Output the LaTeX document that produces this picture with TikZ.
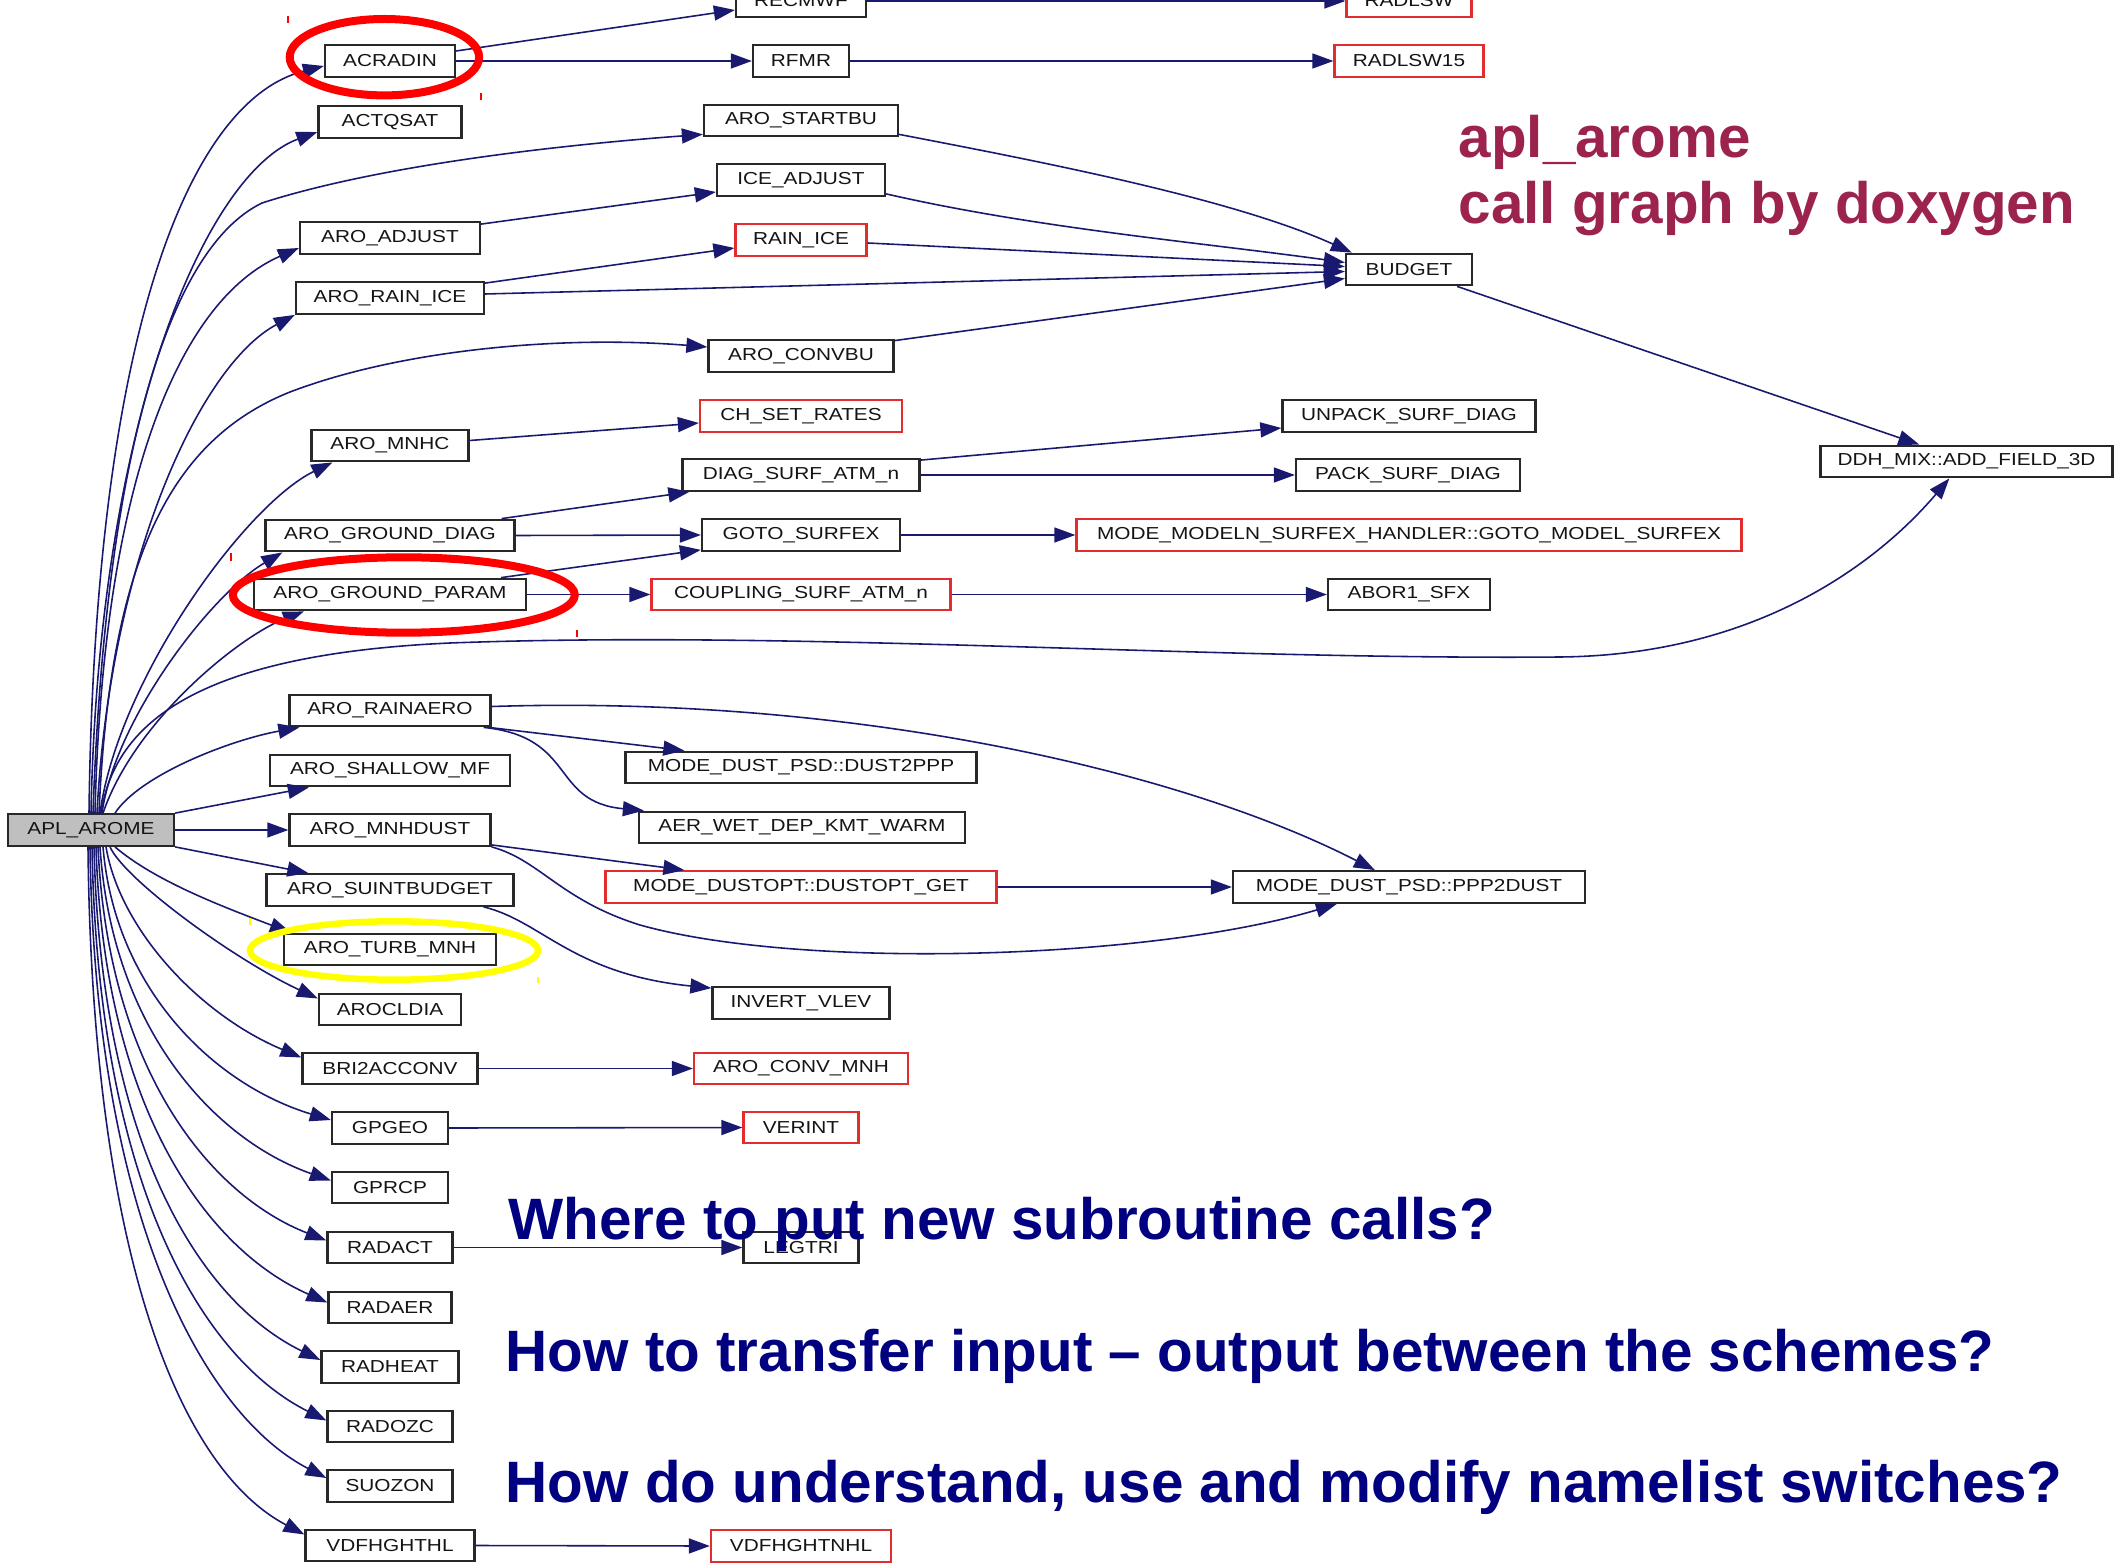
\documentclass[tikz,border=0pt]{standalone}
\usepackage{fontspec}
\setmainfont{Liberation Sans}
\newfontfamily\nodefont[FakeStretch=1.2]{Liberation Sans}
\usetikzlibrary{arrows.meta,calc}
\definecolor{edgeblue}{RGB}{25,25,112}
\definecolor{boxgray}{RGB}{40,40,40}
\definecolor{boxred}{RGB}{225,45,45}
\definecolor{nodetext}{RGB}{20,20,20}
\definecolor{aplgray}{RGB}{191,191,191}
\definecolor{qblue}{RGB}{0,0,128}
\definecolor{titlered}{RGB}{155,35,78}
\definecolor{hiyellow}{RGB}{255,255,0}
\begin{document}
\begin{tikzpicture}[x=0.01cm, y=-0.01cm,
  box/.style={draw=boxgray, line width=0.65pt, fill=white, minimum height=0.315cm, inner xsep=0.02cm, inner ysep=0pt, font=\nodefont\fontsize{4.93}{6}\selectfont, text=nodetext},
  rbox/.style={box, draw=boxred},
  bw/.style={minimum width=#1*0.01cm},
  edge/.style={draw=edgeblue, line width=0.45pt, -{Triangle[length=0.21cm,width=0.15cm]}},
  qtext/.style={anchor=base west, inner sep=0pt, font=\fontsize{16.6}{20}\selectfont\bfseries, text=qblue},
  ttext/.style={anchor=base west, inner sep=0pt, font=\fontsize{16.6}{20}\selectfont\bfseries, text=titlered},
  hiring/.style={line width=0.08cm},
]
\useasboundingbox (0,0) rectangle (2118,1564);
\clip (0,0) rectangle (2118,1564);

% ---------- nodes ----------
\node[box, fill=aplgray, bw=166] (apl) at (91,830) {APL\_AROME};

% column 1
\node[box,bw=130] (acradin)     at (390,61)     {ACRADIN};
\node[box,bw=143] (actqsat)     at (390,122)    {ACTQSAT};
\node[box,bw=180] (aroadjust)   at (390,238)    {ARO\_ADJUST};
\node[box,bw=188] (arorainice)  at (390,298)    {ARO\_RAIN\_ICE};
\node[box,bw=157] (mnhc)        at (390,445.5)  {ARO\_MNHC};
\node[box,bw=249] (grounddiag)  at (390,535.5)  {ARO\_GROUND\_DIAG};
\node[box,bw=272] (groundparam) at (390,594.5)  {ARO\_GROUND\_PARAM};
\node[box,bw=201] (rainaero)    at (390,710.5)  {ARO\_RAINAERO};
\node[box,bw=240] (shallow)     at (390,770.5)  {ARO\_SHALLOW\_MF};
\node[box,bw=201] (mnhdust)     at (390,830)    {ARO\_MNHDUST};
\node[box,bw=247] (suint)       at (390,890)    {ARO\_SUINTBUDGET};
\node[box,bw=212] (turb)        at (390,949.5)  {ARO\_TURB\_MNH};
\node[box,bw=142] (arocldia)    at (390,1009.5) {AROCLDIA};
\node[box,bw=175] (bri)         at (390,1068.5) {BRI2ACCONV};
\node[box,bw=116] (gpgeo)       at (390,1128)   {GPGEO};
\node[box,bw=116] (gprcp)       at (390,1187.5) {GPRCP};
\node[box,bw=125] (radact)      at (390,1247.5) {RADACT};
\node[box,bw=123] (radaer)      at (390,1307.5) {RADAER};
\node[box,bw=137] (radheat)     at (390,1367)   {RADHEAT};
\node[box,bw=125] (radozc)      at (390,1426.5) {RADOZC};
\node[box,bw=125] (suozon)      at (390,1486)   {SUOZON};
\node[box,bw=169] (vdfhghthl)   at (390,1545.5) {VDFHGHTHL};

% column 2
\node[box,bw=130]  (recmwf)     at (801,1)      {RECMWF};
\node[box,bw=96]   (rfmr)       at (801,61)     {RFMR};
\node[box,bw=194]  (startbu)    at (801,120.5)  {ARO\_STARTBU};
\node[box,bw=168]  (iceadj)     at (801,180)    {ICE\_ADJUST};
\node[rbox,bw=131] (rainice)    at (801,240)    {RAIN\_ICE};
\node[box,bw=185]  (convbu)     at (801,356)    {ARO\_CONVBU};
\node[rbox,bw=202] (chset)      at (801,416)    {CH\_SET\_RATES};
\node[box,bw=237]  (diag)       at (801,475)    {DIAG\_SURF\_ATM\_n};
\node[box,bw=198]  (goto)       at (801,535)    {GOTO\_SURFEX};
\node[rbox,bw=299] (coupling)   at (801,594.5)  {COUPLING\_SURF\_ATM\_n};
\node[box,bw=351]  (dust2ppp)   at (801,767.5)  {MODE\_DUST\_PSD::DUST2PPP};
\node[box,bw=326]  (aerwet)     at (802,827.5)  {AER\_WET\_DEP\_KMT\_WARM};
\node[rbox,bw=391] (dustopt)    at (801,887)    {MODE\_DUSTOPT::DUSTOPT\_GET};
\node[box,bw=177]  (invert)     at (801,1003)   {INVERT\_VLEV};
\node[rbox,bw=214] (aroconvmnh) at (801,1068.5) {ARO\_CONV\_MNH};
\node[rbox,bw=115] (verint)     at (801,1127.5) {VERINT};
\node[box,bw=115]  (legtri)     at (801,1247.5) {LEGTRI};
\node[rbox,bw=180] (vdfhghtnhl) at (801,1546)   {VDFHGHTNHL};

% column 3
\node[rbox,bw=125] (radlsw)     at (1409,1)     {RADLSW};
\node[rbox,bw=149] (radlsw15)   at (1409,61)    {RADLSW15};
\node[box,bw=126]  (budget)     at (1409,269.5) {BUDGET};
\node[box,bw=253]  (unpack)     at (1409,416)   {UNPACK\_SURF\_DIAG};
\node[box,bw=224]  (pack)       at (1408,475)   {PACK\_SURF\_DIAG};
\node[rbox,bw=665] (modeln)     at (1409,535)   {MODE\_MODELN\_SURFEX\_HANDLER::GOTO\_MODEL\_SURFEX};
\node[box,bw=162]  (abor)       at (1409,594.5) {ABOR1\_SFX};
\node[box,bw=352]  (ppp2dust)   at (1409,887)   {MODE\_DUST\_PSD::PPP2DUST};

% column 4
\node[box,bw=292]  (ddh)        at (1966.5,461.5) {DDH\_MIX::ADD\_FIELD\_3D};

% ---------- fan from APL_AROME (upper) ----------
\draw[edge] ($(apl.north)+(-2,0)$) .. controls (95,330) and (190,100) .. ($(acradin.west)+(0,5)$);
\draw[edge] (apl.north) .. controls (99,414) and (208,172) .. ($(actqsat.west)+(0,10)$);
\draw[edge] ($(apl.north)+(2,0)$) .. controls (105,470) and (165,250) .. (262,203) .. controls (380,165) and (560,145) .. ($(startbu.south west)+(0,-3)$);
\draw[edge] ($(apl.north)+(4,0)$) .. controls (103,480) and (180,300) .. ($(aroadjust.west)+(0,10)$);
\draw[edge] ($(apl.north)+(6,0)$) .. controls (110,560) and (200,365) .. (arorainice.south west);
\draw[edge] ($(apl.north)+(8,0)$) .. controls (110,560) and (170,440) .. (290,392) .. controls (400,350) and (560,335) .. ($(convbu.west)+(0,-9)$);
\draw[edge] ($(apl.north)+(9,0)$) .. controls (118,680) and (245,505) .. ($(mnhc.south west)+(22,0)$);
\draw[edge] ($(apl.north)+(10,0)$) .. controls (114,730) and (185,655) .. (450,643) .. controls (800,630) and (1200,660) .. (1560,657) .. controls (1760,655) and (1880,560) .. ($(ddh.south west)+(130,0)$);
\draw[edge] ($(apl.north)+(11,0)$) .. controls (115,720) and (210,595) .. ($(grounddiag.south west)+(18,0)$);
\draw[edge] ($(apl.north)+(12,0)$) .. controls (135,720) and (240,636) .. ($(groundparam.south west)+(51,0)$);
\draw[edge] ($(apl.north)+(24,0)$) .. controls (140,775) and (230,740) .. ($(rainaero.south west)+(11,0)$);
\draw[edge] (apl.north east) -- ($(shallow.south west)+(40,0)$);
\draw[edge] (apl.east) -- (mnhdust.west);
\draw[edge] (apl.south east) -- ($(suint.north west)+(43,0)$);
\draw[edge] ($(apl.south)+(24,0)$) .. controls (155,881) and (221,906) .. ($(turb.north west)+(8,0)$);

% ---------- fan from APL_AROME (lower) ----------
\draw[edge] ($(apl.south)+(19,0)$) .. controls (125,880) and (235,960) .. ($(arocldia.west)+(0,-11)$);
\draw[edge] ($(apl.south)+(15,0)$) .. controls (120,930) and (200,1015) .. ($(bri.west)+(0,-11)$);
\draw[edge] ($(apl.south)+(12,0)$) .. controls (115,990) and (215,1085) .. ($(gpgeo.west)+(0,-8)$);
\draw[edge] ($(apl.south)+(9,0)$) .. controls (112,1030) and (215,1140) .. ($(gprcp.west)+(0,-7)$);
\draw[edge] ($(apl.south)+(7,0)$) .. controls (108,1070) and (210,1195) .. ($(radact.west)+(0,-7)$);
\draw[edge] ($(apl.south)+(5,0)$) .. controls (104,1110) and (208,1250) .. ($(radaer.west)+(0,-5)$);
\draw[edge] ($(apl.south)+(3,0)$) .. controls (101,1150) and (203,1303) .. ($(radheat.west)+(0,-7)$);
\draw[edge] ($(apl.south)+(1,0)$) .. controls (98,1190) and (205,1360) .. ($(radozc.west)+(0,-6)$);
\draw[edge] ($(apl.south)+(-1,0)$) .. controls (95,1220) and (205,1415) .. ($(suozon.west)+(0,-8)$);
\draw[edge] ($(apl.south)+(-3,0)$) .. controls (92,1250) and (178,1468) .. ($(vdfhghthl.west)+(0,-11)$);

% ---------- column 1 -> column 2 ----------
\draw[edge] ($(acradin.east)+(0,-10)$) -- ($(recmwf.west)+(0,9)$);
\draw[edge] (acradin.east) -- (rfmr.west);
\draw[edge] ($(aroadjust.north east)+(0,3)$) -- ($(iceadj.west)+(0,12)$);
\draw[edge] ($(arorainice.north east)+(0,2)$) -- ($(rainice.west)+(0,8)$);
\draw[edge] ($(arorainice.east)+(0,-4)$) -- ($(budget.west)+(0,2)$);
\draw[edge] ($(mnhc.east)+(0,-5)$) -- ($(chset.west)+(0,7)$);
\draw[edge] ($(grounddiag.north east)+(-14,0)$) -- ($(diag.south west)+(8,0)$);
\draw[edge] (grounddiag.east) -- (goto.west);
\draw[edge] ($(groundparam.north east)+(-26,0)$) -- ($(goto.south west)+(0,-2)$);
\draw[edge] (groundparam.east) -- (coupling.west);
\draw[edge] ($(rainaero.south east)+(-3,0)$) -- ($(dust2ppp.north west)+(60,0)$);
\draw[edge] ($(rainaero.south east)+(-8,0)$) .. controls (577,737) and (550,802) .. ($(aerwet.north west)+(6,0)$);
\draw[edge] ($(rainaero.east)+(0,-4)$) .. controls (850,695) and (1180,770) .. ($(ppp2dust.north west)+(143,0)$);
\draw[edge] ($(mnhdust.south east)+(0,-2)$) -- ($(dustopt.north west)+(80,0)$);
\draw[edge] (mnhdust.south east) .. controls (540,860) and (560,900) .. (640,925) .. controls (800,970) and (1150,960) .. ($(ppp2dust.south west)+(105,0)$);
\draw[edge] ($(suint.south east)+(-31,0)$) .. controls (542,921) and (572,974) .. ($(invert.north west)+(0,2)$);
\draw[edge] (bri.east) -- (aroconvmnh.west);
\draw[edge] (gpgeo.east) -- (verint.west);
\draw[edge] (radact.east) -- (legtri.west);
\draw[edge] (vdfhghthl.east) -- (vdfhghtnhl.west);

% ---------- column 2 -> column 3 ----------
\draw[edge] (recmwf.east) -- (radlsw.west);
\draw[edge] (rfmr.east) -- (radlsw15.west);
\draw[edge] ($(startbu.south east)+(0,-3)$) .. controls (1048,163) and (1233,199) .. ($(budget.north west)+(7,0)$);
\draw[edge] ($(iceadj.south east)+(0,-3)$) .. controls (1035,228) and (1196,242) .. ($(budget.west)+(0,-7)$);
\draw[edge] ($(rainice.east)+(0,3)$) -- ($(budget.west)+(0,-3)$);
\draw[edge] ($(convbu.north east)+(0,1.5)$) -- ($(budget.west)+(0,9)$);
\draw[edge] ($(diag.north east)+(0,2)$) -- ($(unpack.west)+(0,12)$);
\draw[edge] (diag.east) -- (pack.west);
\draw[edge] (goto.east) -- (modeln.west);
\draw[edge] (coupling.east) -- (abor.west);
\draw[edge] (dustopt.east) -- (ppp2dust.west);
\draw[edge] ($(budget.south east)+(-16,0)$) -- ($(ddh.north west)+(100,0)$);

% ---------- highlight rings ----------
\draw[red, hiring] (384.4,57.2) ellipse [x radius=94.7, y radius=38.2];
\draw[red, hiring] (403.8,595) ellipse [x radius=171, y radius=37.7];
\draw[hiyellow, line width=0.065cm] (394,950.5) ellipse [x radius=144, y radius=29.2];
\draw[red, line width=0.35pt] (288,16) -- (288,23);
\draw[red, line width=0.35pt] (481,93) -- (481,100);
\draw[red, line width=0.35pt] (231,553) -- (231,561);
\draw[red, line width=0.35pt] (577,630) -- (577,637);
\draw[hiyellow, line width=0.35pt] (250,918) -- (250,925);
\draw[hiyellow, line width=0.35pt] (538,977) -- (538,983);

% ---------- texts ----------
\node[ttext] (title1) at (1458,158) {apl\_arome};
\node[ttext] (title2) at (1458,224) {call graph by doxygen};
\node[qtext] (q1) at (508,1239) {Where to put new subroutine calls?};
\node[qtext] (q2) at (505,1371) {How to transfer input – output between the schemes?};
\node[qtext] (q3) at (505,1502) {How do understand, use and modify namelist switches?};
\end{tikzpicture}
\end{document}
